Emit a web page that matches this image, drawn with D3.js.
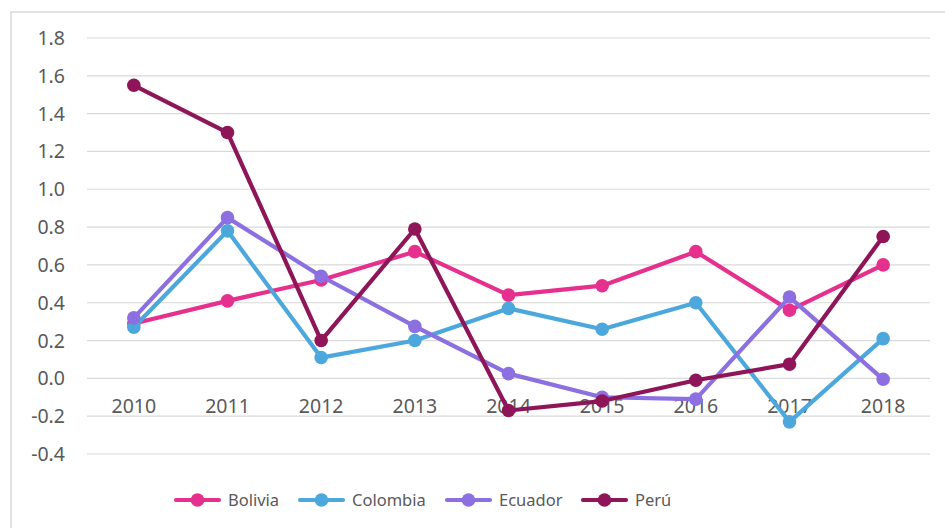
<!DOCTYPE html>
<html><head><meta charset="utf-8">
<script src="https://cdn.jsdelivr.net/npm/d3@7"></script>
<style>body{margin:0;background:#fff;}svg{display:block;}</style>
</head><body>
<script>
const years = ["2010","2011","2012","2013","2014","2015","2016","2017","2018"];
const bolivia  = [0.29, 0.41, 0.52, 0.67, 0.44, 0.49, 0.67, 0.36, 0.60];
const colombia = [0.27, 0.78, 0.11, 0.20, 0.37, 0.26, 0.40, -0.23, 0.21];
const ecuador  = [0.32, 0.85, 0.54, 0.275, 0.025, -0.10, -0.11, 0.43, -0.005];
const peru     = [1.55, 1.30, 0.20, 0.79, -0.17, -0.12, -0.01, 0.075, 0.75];
const seriesNames = ["Bolivia","Colombia","Ecuador","Perú"];
const yTicks = [-0.4,-0.2,0,0.2,0.4,0.6,0.8,1.0,1.2,1.4,1.6,1.8];
const colors = ["#E5308E","#4CA8DC","#8C6FE0","#8E1558"];
const series = [bolivia, colombia, ecuador, peru];

const W=945,H=528;
const svg=d3.select("body").append("svg").attr("width",W).attr("height",H);
svg.append("rect").attr("x",11).attr("y",12).attr("width",W).attr("height",H)
  .attr("fill","none").attr("stroke","#d9d9d9").attr("stroke-width",1.5);

const x=d3.scaleBand().domain(years).range([87,930]);
const y=d3.scaleLinear().domain([-0.4,1.8]).range([454,38]);
const font="'Noto Sans', 'Open Sans', sans-serif";

// gridlines
svg.append("g").selectAll("line").data(yTicks).join("line")
  .attr("x1",87).attr("x2",930).attr("y1",d=>y(d)).attr("y2",d=>y(d))
  .attr("stroke","#d9d9d9").attr("stroke-width",1.2);

// y labels
svg.append("g").selectAll("text").data(yTicks).join("text")
  .attr("x",65).attr("y",d=>y(d)).attr("dy","0.36em").attr("text-anchor","end")
  .attr("font-family",font).attr("font-size",19.5).attr("fill","#595959")
  .text(d=>d.toFixed(1));

// x labels
svg.append("g").selectAll("text").data(years).join("text")
  .attr("x",d=>x(d)+x.bandwidth()/2).attr("y",y(0)+35).attr("text-anchor","middle")
  .attr("font-family",font).attr("font-size",19.5).attr("fill","#595959")
  .text(d=>d);

const line=d3.line().x((d,i)=>x(years[i])+x.bandwidth()/2).y(d=>y(d));
series.forEach((s,k)=>{
  const g=svg.append("g");
  g.append("path").datum(s).attr("d",line).attr("fill","none")
    .attr("stroke",colors[k]).attr("stroke-width",4.2).attr("stroke-linejoin","round");
  g.selectAll("circle").data(s).join("circle")
    .attr("cx",(d,i)=>x(years[i])+x.bandwidth()/2).attr("cy",d=>y(d)).attr("r",6.8)
    .attr("fill",colors[k]);
});

// legend
const legX=[176,300,447,583];
const lg=svg.append("g");
seriesNames.forEach((n,k)=>{
  const gx=legX[k], gy=500;
  lg.append("line").attr("x1",gx).attr("x2",gx+43).attr("y1",gy).attr("y2",gy)
    .attr("stroke",colors[k]).attr("stroke-width",4.2).attr("stroke-linecap","round");
  lg.append("circle").attr("cx",gx+21.5).attr("cy",gy).attr("r",6.8).attr("fill",colors[k]);
  lg.append("text").attr("x",gx+52).attr("y",gy).attr("dy","0.36em")
    .attr("font-family",font).attr("font-size",16.5).attr("fill","#595959").text(n);
});
</script>
</body></html>
